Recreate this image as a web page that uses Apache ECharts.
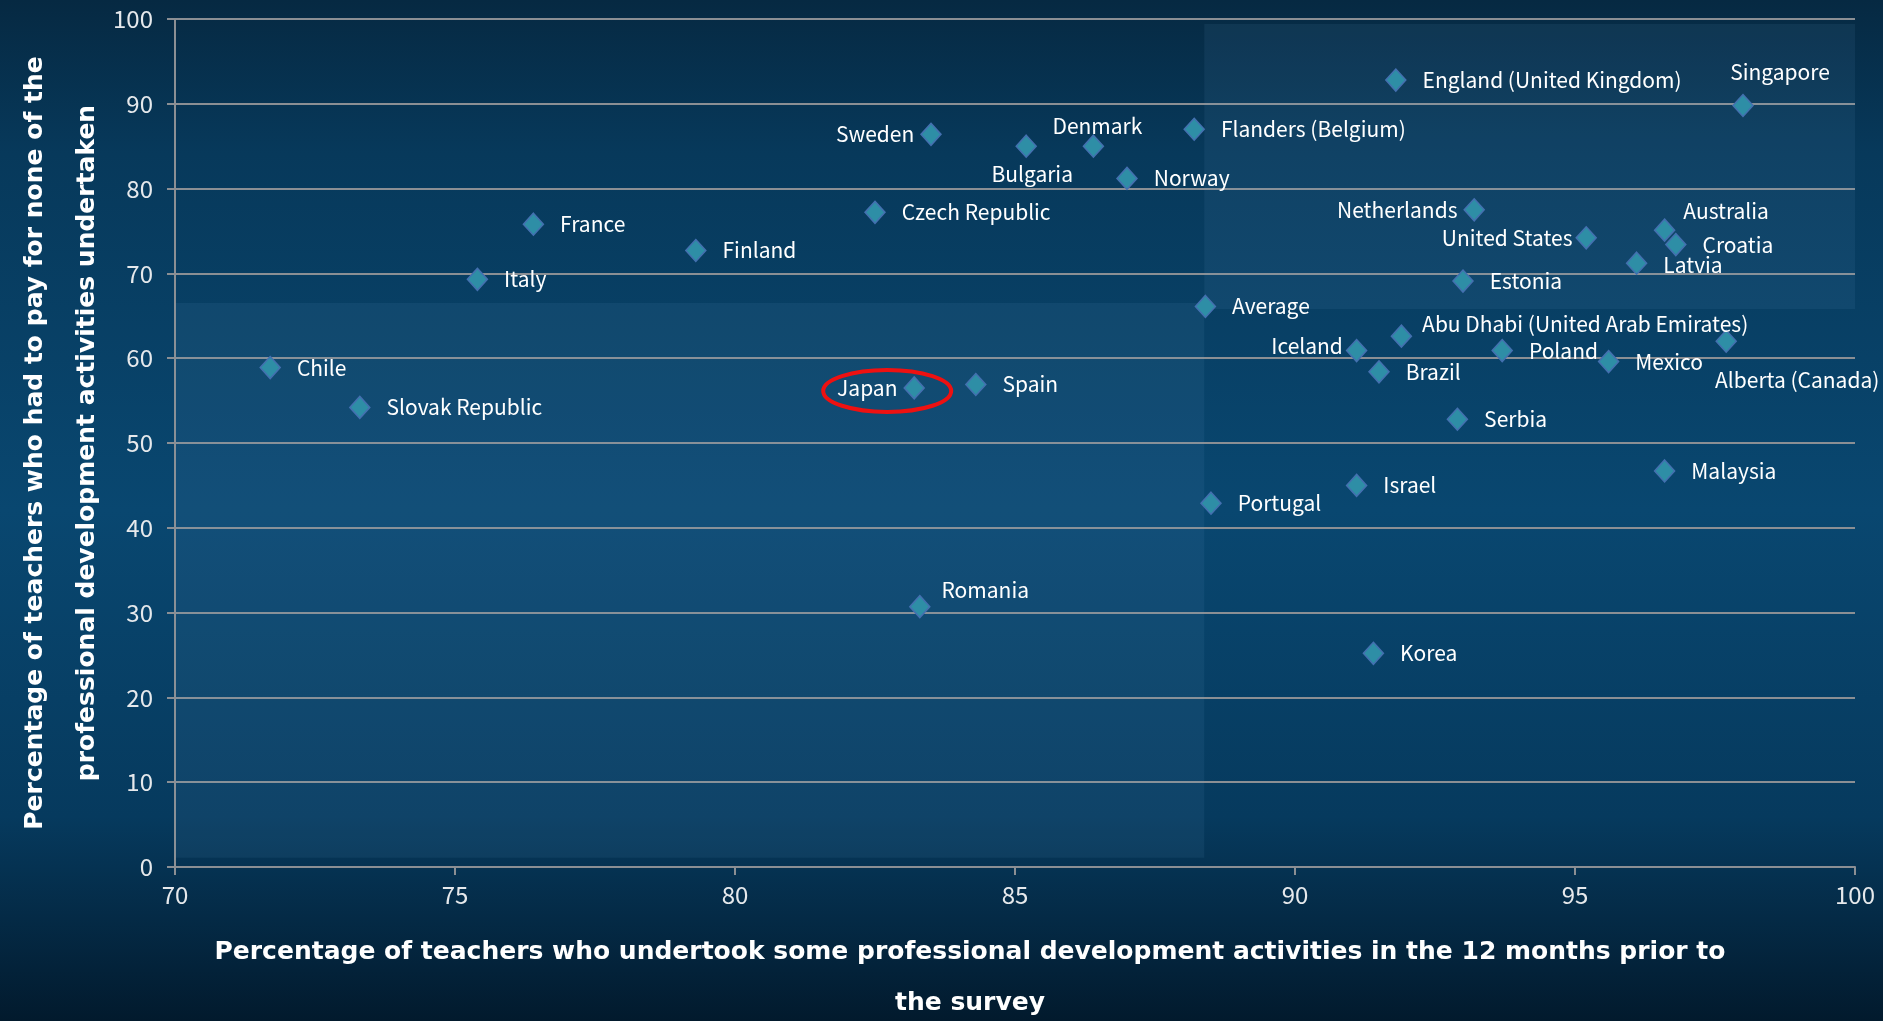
<!DOCTYPE html>
<html>
<head>
<meta charset="utf-8">
<script src="https://cdn.jsdelivr.net/npm/echarts@6/dist/echarts.min.js"></script>
<style>
html, body { margin: 0; padding: 0; }
#box { width: 1883px; height: 1021px; }
</style>
</head>
<body>
<div id="box"></div>
<script>
// values
const countries = ['Chile', 'Slovak Republic', 'Italy', 'France', 'Finland', 'Czech Republic', 'Sweden', 'Japan',
  'Spain', 'Romania', 'Bulgaria', 'Denmark', 'Norway', 'Flanders (Belgium)', 'Average', 'Portugal',
  'England (United Kingdom)', 'Iceland', 'Abu Dhabi (United Arab Emirates)', 'Brazil', 'Israel', 'Korea',
  'Netherlands', 'Estonia', 'Serbia', 'Poland', 'United States', 'Mexico', 'Latvia', 'Australia', 'Croatia',
  'Malaysia', 'Alberta (Canada)', 'Singapore']
const undertookPD = [71.7, 73.3, 75.4, 76.4, 79.3, 82.5, 83.5, 83.2,
  84.3, 83.3, 85.2, 86.4, 87.0, 88.2, 88.4, 88.5,
  91.8, 91.1, 91.9, 91.5, 91.1, 91.4,
  93.2, 93.0, 92.9, 93.7, 95.2, 95.6, 96.1, 96.6, 96.8,
  96.6, 97.7, 98.0]
const paidNothing = [58.9, 54.2, 69.3, 75.8, 72.7, 77.2, 86.4, 56.5,
  56.9, 30.7, 85.0, 85.0, 81.2, 87.0, 66.1, 42.9,
  92.8, 60.9, 62.6, 58.4, 45.0, 25.2,
  77.5, 69.1, 52.8, 60.9, 74.2, 59.6, 71.2, 75.1, 73.4,
  46.7, 62.0, 89.8]
const xTicks = [70, 75, 80, 85, 90, 95, 100]
const yTicks = [0, 10, 20, 30, 40, 50, 60, 70, 80, 90, 100]
// shaded quadrants around the average
const quadrants = [
  [[70, 1.1], [88.38, 66.5]],
  [[88.38, 65.8], [100.1, 99.4]]
]

const labelSpots = {
  'Sweden': { position: 'left', distance: 6 },
  'Japan': { position: 'left', distance: 6 },
  'Iceland': { position: 'left', distance: 3, offset: [0, -5] },
  'Netherlands': { position: 'left', distance: 6 },
  'United States': { position: 'left', distance: 3 },
  'Romania': { offset: [-5, -17] },
  'Abu Dhabi (United Arab Emirates)': { offset: [-6, -12] },
  'Australia': { offset: [-8, -19] },
  'Bulgaria': { position: 'bottom', distance: 5, offset: [6, 0] },
  'Denmark': { position: 'top', distance: 0, offset: [4, 3] },
  'Singapore': { position: 'top', distance: 0, offset: [37, -11] },
  'Alberta (Canada)': { position: 'bottom', distance: 0, offset: [71, 16] },
  'Latvia': { offset: [0, 2] }
}

const points = countries.map((name, i) => {
  const item = { name, value: [undertookPD[i], paidNothing[i]] }
  if (labelSpots[name]) item.label = labelSpots[name]
  return item
})

const gridColor = '#8b8f94'
const chart = echarts.init(document.getElementById('box'))

chart.setOption({
  backgroundColor: {
    type: 'linear', x: 0, y: 0, x2: 0, y2: 1,
    colorStops: [
      { offset: 0, color: '#062942' },
      { offset: 0.15, color: '#07395b' },
      { offset: 0.5, color: '#094770' },
      { offset: 0.8, color: '#063a5e' },
      { offset: 1, color: '#021a2d' }
    ]
  },
  grid: { left: 175, right: 28, top: 19, bottom: 154, containLabel: false, outerBoundsMode: 'none' },
  xAxis: {
    type: 'value', min: xTicks[0], max: xTicks[xTicks.length - 1], interval: 5,
    splitLine: { show: false },
    axisLine: { lineStyle: { color: gridColor, width: 2 } },
    axisTick: { show: true, length: 8, lineStyle: { color: gridColor, width: 2 } },
    axisLabel: { color: '#e6e9ec', fontFamily: 'Noto Sans CJK KR', fontSize: 24, margin: 16 },
    name: 'Percentage of teachers who undertook some professional development activities in the 12 months prior to\nthe survey',
    nameLocation: 'middle', nameGap: 60, nameMoveOverlap: false,
    nameTextStyle: { color: '#ffffff', fontFamily: 'DejaVu Sans', fontWeight: 'bold', fontSize: 25, lineHeight: 51, padding: [0, 90, 0, 0] }
  },
  yAxis: {
    type: 'value', min: yTicks[0], max: yTicks[yTicks.length - 1], interval: 10,
    splitLine: { show: true, lineStyle: { color: gridColor, width: 2 } },
    axisLine: { show: true, lineStyle: { color: gridColor, width: 2 } },
    axisTick: { show: true, length: 8, lineStyle: { color: gridColor, width: 2 } },
    axisLabel: { color: '#e6e9ec', fontFamily: 'Noto Sans CJK KR', fontSize: 24, margin: 22 },
    name: 'Percentage of teachers who had to pay for none of the\nprofessional development activities undertaken',
    nameLocation: 'middle', nameGap: 62, nameMoveOverlap: false,
    nameTextStyle: { color: '#ffffff', fontFamily: 'DejaVu Sans', fontWeight: 'bold', fontSize: 25, lineHeight: 52 }
  },
  series: [{
    type: 'scatter',
    symbol: 'diamond',
    symbolSize: [20, 22],
    itemStyle: { color: '#2e8ea6', borderColor: '#4470b0', borderWidth: 1.5, opacity: 1 },
    label: {
      show: true, position: 'right', distance: 16,
      formatter: '{b}', color: '#ffffff',
      fontFamily: 'Noto Sans CJK KR', fontSize: 21, lineHeight: 22
    },
    markArea: {
      silent: true,
      itemStyle: { color: 'rgba(110,170,215,0.09)' },
      data: quadrants.map(q => [{ coord: q[0] }, { coord: q[1] }])
    },
    data: points
  }]
})

/* red ring round Japan */
const jp = chart.convertToPixel({ seriesIndex: 0 }, points[countries.indexOf('Japan')].value)
chart.setOption({
  graphic: [{
    type: 'ellipse',
    shape: { cx: jp[0] - 27, cy: jp[1] + 3, rx: 64, ry: 21 },
    style: { fill: 'none', stroke: '#ee1111', lineWidth: 4 },
    z: 10
  }]
})
</script>
</body>
</html>
